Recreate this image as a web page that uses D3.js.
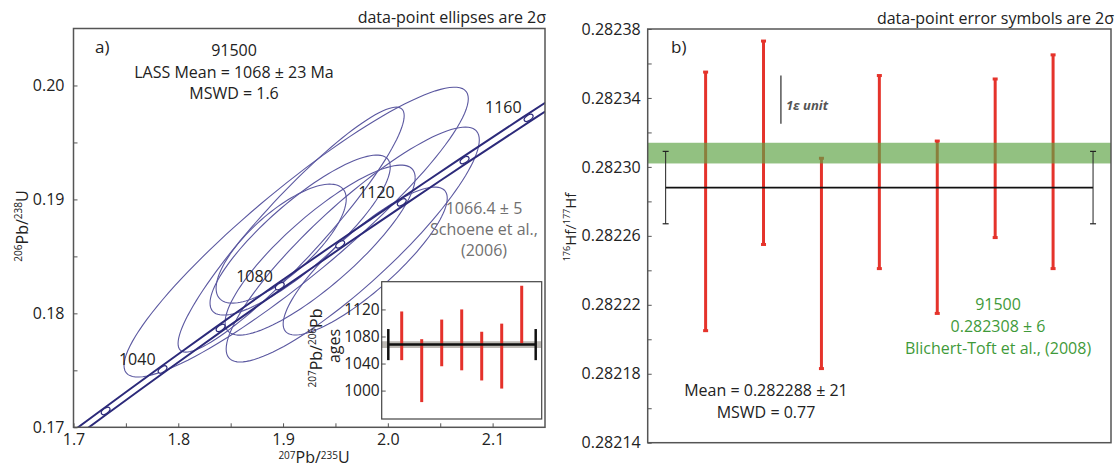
<!DOCTYPE html>
<html><head><meta charset="utf-8">
<script src="https://cdn.jsdelivr.net/npm/d3@7"></script>
<style>body{margin:0;background:#fff}svg{display:block}text{font-family:"Open Sans",sans-serif}</style>
</head><body><svg id="c" width="1120" height="468"></svg>
<script>
// ---------- Panel a) data ----------
const xTicksA = [1.7, 1.8, 1.9, 2.0, 2.1];
const xMinorA = [1.75, 1.85, 1.95, 2.05];
const yTicksA = [0.17, 0.18, 0.19, 0.20];
const yMinorA = [0.175, 0.185, 0.195];
// ellipse centres and 2-sigma errors
const ellX   = [1.9125, 1.9077, 1.9665, 1.9784, 1.8982, 1.9163, 1.9354];
const ellSX  = [0.1643, 0.1079, 0.1208, 0.0783, 0.0621, 0.0860, 0.0907];
const ellY   = [0.18713, 0.18735, 0.18604, 0.18459, 0.18612, 0.18687, 0.18555];
const ellSY  = [0.01272, 0.01075, 0.01031, 0.00649, 0.00522, 0.00702, 0.00746];
const ellRho = [0.92, 0.93, 0.89, 0.85, 0.75, 0.85, 0.85];
// concordia
const lambda238 = 1.55125e-10, lambda235 = 9.8485e-10;
const concAges = [990,1000,1010,1020,1030,1040,1050,1060,1070,1080,1090,1100,1110,1120,1130,1140,1150,1160,1170,1180];
const markerAges = [1020,1040,1060,1080,1100,1120,1140,1160];
const labelAges = [1040,1080,1120,1160];
const envelope = 0.003;
// inset
const insetIdx = [1,2,3,4,5,6,7];
const insetLo = [1045, 983, 1036, 1030, 1015, 1003, 1070];
const insetHi = [1117, 1076, 1105, 1120, 1087, 1099, 1155];
const insetMean = 1068, insetErr = 23;
const insetBand = [1063, 1073];
const insetMeanX = [0.33, 7.7];
const insetTicks = [1000, 1040, 1080, 1120];

// ---------- Panel b) data ----------
const hfIdx = [1,2,3,4,5,6,7];
const hfLo = [0.282205, 0.282255, 0.282183, 0.282241, 0.282215, 0.282259, 0.282241];
const hfHi = [0.282355, 0.282373, 0.282305, 0.282353, 0.282315, 0.282351, 0.282365];
const hfMean = 0.282288, hfMeanErr = 0.000021;
const hfMeanX = [0.31, 7.69];
const refBand = [0.282302, 0.282314];
const epsBar = [0.282325, 0.282353];
const epsX = 2.3;
const yTicksB = [0.28214, 0.28218, 0.28222, 0.28226, 0.28230, 0.28234, 0.28238];
const yMinorB = [0.28216, 0.28220, 0.28224, 0.28228, 0.28232, 0.28236];

const svg = d3.select("#c");
const F = '"Open Sans",sans-serif';

// ===== Panel a =====
const xA = d3.scaleLinear().domain([1.7, 2.15]).range([73.5, 545]);
const yA = d3.scaleLinear().domain([0.17, 0.205]).range([427.3, 28.5]);
const gA = svg.append("g");
svg.append("defs").append("clipPath").attr("id","clipA").append("rect")
  .attr("x",xA.range()[0]).attr("y",yA.range()[1]).attr("width",xA.range()[1]-xA.range()[0]).attr("height",yA.range()[0]-yA.range()[1]);

const plotA = gA.append("g").attr("clip-path","url(#clipA)");
const thetas = d3.range(0, 361, 3).map(d => d*Math.PI/180);
ellX.forEach((cx,i)=>{
  const pts = thetas.map(t=>{
    const x = cx + ellSX[i]*Math.cos(t);
    const y = ellY[i] + ellSY[i]*(ellRho[i]*Math.cos(t) + Math.sqrt(1-ellRho[i]*ellRho[i])*Math.sin(t));
    return [xA(x), yA(y)];
  });
  plotA.append("path").attr("d", d3.line()(pts)).attr("fill","none").attr("stroke","#5b58a0").attr("stroke-width",1.1);
});
const r238 = t => Math.exp(lambda238*t*1e6)-1;
const r235 = t => Math.exp(lambda235*t*1e6)-1;
[-1, 1].forEach(s=>{
  const pts = concAges.map(t=>[xA(r235(t)*(1+s*envelope)), yA(r238(t))]);
  plotA.append("path").attr("d", d3.line().curve(d3.curveCatmullRom)(pts)).attr("fill","none").attr("stroke","#2c2a7a").attr("stroke-width",2);
});
markerAges.forEach(t=>{
  const px = xA(r235(t)), py = yA(r238(t));
  const ang = Math.atan2(yA(r238(t+10))-yA(r238(t-10)), xA(r235(t+10))-xA(r235(t-10)))*180/Math.PI;
  plotA.append("ellipse").attr("cx",px).attr("cy",py).attr("rx",5).attr("ry",2.6)
    .attr("transform",`rotate(${ang},${px},${py})`)
    .attr("fill","#fff").attr("stroke","#2c2a7a").attr("stroke-width",1.2);
});
labelAges.forEach(t=>{
  gA.append("text").attr("x", xA(r235(t))-7).attr("y", yA(r238(t))-4.5).attr("text-anchor","end")
    .attr("font-size",16).attr("fill","#222").text(t);
});
function axisY(g, scale, x, major, minor, fmt, pad, fs){
  const a = d3.axisLeft(scale).tickValues(major).tickFormat(fmt).tickSizeInner(-4).tickSizeOuter(0).tickPadding(pad);
  const ga = g.append("g").attr("transform",`translate(${x},0)`).call(a);
  ga.select(".domain").remove();
  ga.selectAll("line").attr("stroke","#555");
  ga.selectAll("text").attr("font-family",F).attr("font-size",fs).attr("fill","#222");
  if (minor.length){
    const b = d3.axisLeft(scale).tickValues(minor).tickFormat("").tickSizeInner(-4).tickSizeOuter(0);
    const gb = g.append("g").attr("transform",`translate(${x},0)`).call(b);
    gb.select(".domain").remove(); gb.selectAll("line").attr("stroke","#555");
  }
}
function axisX(g, scale, y, major, minor, fmt){
  const a = d3.axisBottom(scale).tickValues(major).tickFormat(fmt).tickSizeInner(-4).tickSizeOuter(0).tickPadding(6);
  const ga = g.append("g").attr("transform",`translate(0,${y})`).call(a);
  ga.select(".domain").remove();
  ga.selectAll("line").attr("stroke","#555");
  ga.selectAll("text").attr("font-family",F).attr("font-size",16).attr("fill","#222");
  const b = d3.axisBottom(scale).tickValues(minor).tickFormat("").tickSizeInner(-4).tickSizeOuter(0);
  const gb = g.append("g").attr("transform",`translate(0,${y})`).call(b);
  gb.select(".domain").remove(); gb.selectAll("line").attr("stroke","#555");
}
axisX(gA, xA, yA.range()[0], xTicksA, xMinorA, d3.format(".1f"));
axisY(gA, yA, xA.range()[0], yTicksA, yMinorA, d3.format(".2f"), 9, 16);
gA.append("rect").attr("x",xA.range()[0]).attr("y",yA.range()[1]).attr("width",xA.range()[1]-xA.range()[0]).attr("height",yA.range()[0]-yA.range()[1])
  .attr("fill","none").attr("stroke","#555").attr("stroke-width",1.5);

function supLabel(g, x, y, parts, fs, sfs, rotate, anchor, fill, shift){
  const t = g.append("text").attr("text-anchor",anchor||"middle").attr("font-size",fs).attr("fill",fill||"#222")
    .attr("transform",`translate(${x},${y})` + (rotate?` rotate(${rotate})`:""));
  const sh = shift || 6;
  let up = false;
  parts.forEach(p=>{
    const ts = t.append("tspan").text(p.t);
    if (p.sup){ ts.attr("font-size",sfs).attr("dy", up ? 0 : -sh); up = true; }
    else { ts.attr("dy", up ? sh : 0); up = false; }
  });
  return t;
}
supLabel(gA, 314, 463, [{t:"207",sup:1},{t:"Pb/"},{t:"235",sup:1},{t:"U"}], 16, 10, 0, "middle", "#222", 4);
supLabel(gA, 28, 226, [{t:"206",sup:1},{t:"Pb/"},{t:"238",sup:1},{t:"U"}], 16, 10, -90);
gA.append("text").attr("x",546).attr("y",23).attr("text-anchor","end").attr("font-size",16).attr("fill","#222").text("data-point ellipses are 2σ");
gA.append("text").attr("x",95).attr("y",53).attr("font-size",17).attr("fill","#222").text("a)");
[["91500",56],["LASS Mean = 1068 ± 23 Ma",77.5],["MSWD = 1.6",99]].forEach(d=>{
  gA.append("text").attr("x",234).attr("y",d[1]).attr("text-anchor","middle").attr("font-size",16).attr("fill","#222").text(d[0]);
});
[["1066.4 ± 5",214],["Schoene et al.,",235],["(2006)",256]].forEach(d=>{
  gA.append("text").attr("x",484).attr("y",d[1]).attr("text-anchor","middle").attr("font-size",16).attr("fill","#707070").text(d[0]);
});

// ----- inset -----
const xI = d3.scaleLinear().domain([0,8]).range([381.7, 541.7]);
const yI = d3.scaleLinear().domain([958, 1161]).range([419, 281.7]);
const gI = svg.append("g");
gI.append("rect").attr("x",xI.range()[0]).attr("y",yI.range()[1]).attr("width",xI.range()[1]-xI.range()[0]).attr("height",yI.range()[0]-yI.range()[1]).attr("fill","#fff");
gI.append("rect").attr("x",xI.range()[0]).attr("y",yI(insetBand[1])).attr("width",xI.range()[1]-xI.range()[0]).attr("height",yI(insetBand[0])-yI(insetBand[1]))
  .attr("fill","#bdbab5");
insetIdx.forEach((d,i)=>{
  gI.append("line").attr("x1",xI(d)).attr("x2",xI(d)).attr("y1",yI(insetLo[i])).attr("y2",yI(insetHi[i]))
    .attr("stroke","#e5312a").attr("stroke-width",3);
});
gI.append("line").attr("x1",xI(insetMeanX[0])).attr("x2",xI(insetMeanX[1])).attr("y1",yI(insetMean)).attr("y2",yI(insetMean)).attr("stroke","#111").attr("stroke-width",2.5);
insetMeanX.forEach(x=>{
  gI.append("line").attr("x1",xI(x)).attr("x2",xI(x)).attr("y1",yI(insetMean-insetErr)).attr("y2",yI(insetMean+insetErr)).attr("stroke","#111").attr("stroke-width",2.5);
});
axisY(gI, yI, xI.range()[0], insetTicks, [], d3.format("d"), 2, 15.5);
gI.append("rect").attr("x",xI.range()[0]).attr("y",yI.range()[1]).attr("width",xI.range()[1]-xI.range()[0]).attr("height",yI.range()[0]-yI.range()[1])
  .attr("fill","none").attr("stroke","#444").attr("stroke-width",1.2);
supLabel(gI, 322, 348, [{t:"207",sup:1},{t:"Pb/"},{t:"206",sup:1},{t:"Pb"}], 16, 10, -90);
gI.append("text").attr("transform","translate(340,346) rotate(-90)").attr("text-anchor","middle").attr("font-size",16).attr("fill","#222").text("ages");

// ===== Panel b =====
const xB = d3.scaleLinear().domain([0,8]).range([647.7, 1111]);
const yB = d3.scaleLinear().domain([0.28214, 0.28238]).range([442.7, 29]);
const gB = svg.append("g");
hfIdx.forEach((d,i)=>{
  gB.append("line").attr("x1",xB(d)).attr("x2",xB(d)).attr("y1",yB(hfLo[i])).attr("y2",yB(hfHi[i]))
    .attr("stroke","#e5332b").attr("stroke-width",3);
  [hfLo[i], hfHi[i]].forEach(v=>{
    gB.append("rect").attr("x",xB(d)-2.5).attr("y",yB(v)-1.5).attr("width",5).attr("height",3).attr("fill","#e5332b");
  });
});
gB.append("rect").attr("x",xB(0)).attr("y",yB(refBand[1])).attr("width",xB(8)-xB(0)).attr("height",yB(refBand[0])-yB(refBand[1]))
  .attr("fill","#5ea345").attr("fill-opacity",0.68);
gB.append("line").attr("x1",xB(hfMeanX[0])).attr("x2",xB(hfMeanX[1])).attr("y1",yB(hfMean)).attr("y2",yB(hfMean)).attr("stroke","#111").attr("stroke-width",1.6);
hfMeanX.forEach(x=>{
  gB.append("line").attr("x1",xB(x)).attr("x2",xB(x)).attr("y1",yB(hfMean-hfMeanErr)).attr("y2",yB(hfMean+hfMeanErr)).attr("stroke","#222").attr("stroke-width",1);
  [hfMean-hfMeanErr, hfMean+hfMeanErr].forEach(v=>{
    gB.append("line").attr("x1",xB(x)-3).attr("x2",xB(x)+3).attr("y1",yB(v)).attr("y2",yB(v)).attr("stroke","#222").attr("stroke-width",1.2);
  });
});
gB.append("line").attr("x1",xB(epsX)).attr("x2",xB(epsX)).attr("y1",yB(epsBar[0])).attr("y2",yB(epsBar[1])).attr("stroke","#555").attr("stroke-width",1.5);
gB.append("text").attr("x",xB(epsX)+5).attr("y",110).attr("font-size",13).attr("font-weight","bold").attr("font-style","italic").attr("fill","#555").text("1ε unit");
axisY(gB, yB, xB.range()[0], yTicksB, yMinorB, d3.format(".5f"), 7, 16);
gB.append("rect").attr("x",xB.range()[0]).attr("y",yB.range()[1]).attr("width",xB.range()[1]-xB.range()[0]).attr("height",yB.range()[0]-yB.range()[1])
  .attr("fill","none").attr("stroke","#555").attr("stroke-width",1.5);
supLabel(gB, 576, 227, [{t:"176",sup:1},{t:"Hf/"},{t:"177",sup:1},{t:"Hf"}], 15, 9, -90);
gB.append("text").attr("x",1114).attr("y",24).attr("text-anchor","end").attr("font-size",16).attr("fill","#222").text("data-point error symbols are 2σ");
gB.append("text").attr("x",671).attr("y",53).attr("font-size",17).attr("fill","#222").text("b)");
[["Mean = 0.282288 ± 21",396],["MSWD = 0.77",418]].forEach(d=>{
  gB.append("text").attr("x",766).attr("y",d[1]).attr("text-anchor","middle").attr("font-size",16).attr("fill","#222").text(d[0]);
});
[["91500",310],["0.282308 ± 6",332],["Blichert-Toft et al., (2008)",354]].forEach(d=>{
  gB.append("text").attr("x",998).attr("y",d[1]).attr("text-anchor","middle").attr("font-size",16).attr("fill","#3f9a3a").text(d[0]);
});
</script></body></html>
